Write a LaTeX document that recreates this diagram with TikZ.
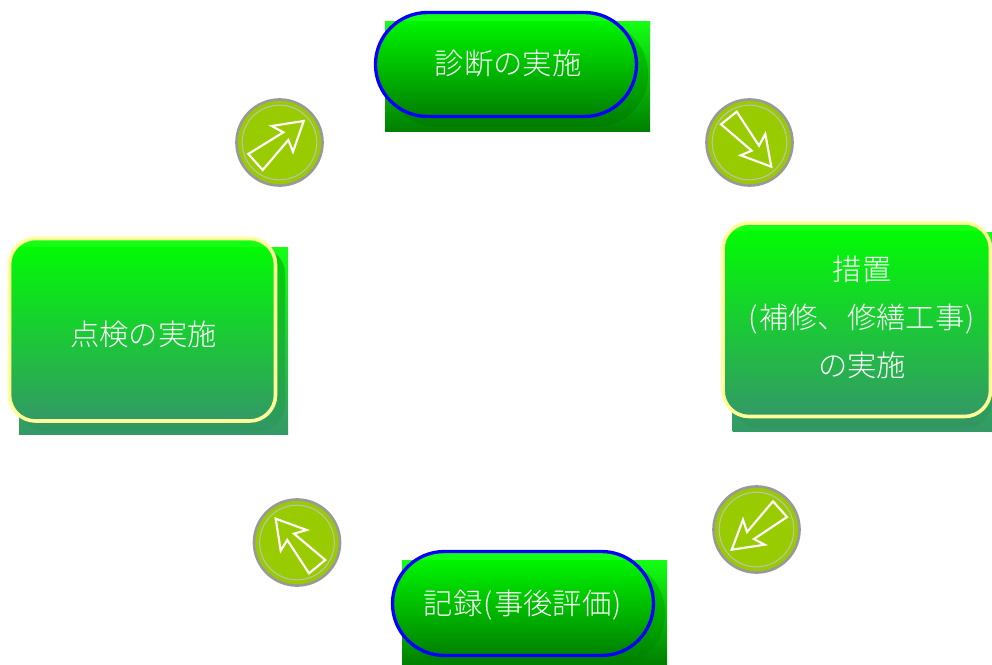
\documentclass[tikz,border=0pt]{standalone}
\usepackage{fontspec}
\newfontfamily\cjk{Noto Sans CJK JP}[UprightFont=* Light]
\definecolor{shadetop}{HTML}{00FF00}
\definecolor{rimtop}{HTML}{14FF14}
\definecolor{darkgreen}{HTML}{008000}
\definecolor{seagreen}{HTML}{339966}
\definecolor{paleyellow}{HTML}{FFFF99}
\definecolor{discfill}{HTML}{99CC00}
\definecolor{discrim}{HTML}{999999}
\definecolor{discring}{HTML}{C0C0C0}
\tikzset{
  pillface/.style={top color=shadetop,bottom color=darkgreen},
  pillback/.style={top color=rimtop,bottom color=darkgreen},
  pillmid/.style={top color=green!88!black,bottom color=darkgreen!97!black},
  pillline/.style={draw=blue,line width=2.5pt},
  boxface/.style={top color=shadetop,bottom color=seagreen},
  boxback/.style={top color=rimtop,bottom color=seagreen},
  boxmid/.style={top color=green!82!black,bottom color=seagreen!98!black},
  boxline/.style={draw=paleyellow,line width=2.7pt},
  label/.style={font=\cjk\fontsize{22pt}{26pt}\selectfont,text=white,inner sep=0pt,align=center},
  disc/.style={circle,draw=discrim,line width=2pt,fill=discfill,minimum size=64.5pt,inner sep=0pt},
  ring/.style={circle,draw=discring,line width=0.75pt,minimum size=56pt,inner sep=0pt},
  arrowmark/.style={draw=white,line width=1.6pt,line join=miter}
}
% #1 name, #2-#5 face box, #6 radius, #7 prefix of the styles, #8 x2 and y2 of the back plate, #9 x2,y2 of mid shape
\newcommand{\card}[9]{%
  \coordinate (#1nw) at (#2,#3);
  \coordinate (#1se) at (#4,#5);
  \coordinate (#1bnw) at (#2+9.5,#3+9);
  \coordinate (#1bse) at #8;
  \coordinate (#1mse) at #9;
  \path[#7back] (#1bnw) rectangle (#1bse);
  \path[#7mid,rounded corners=#6*0.75pt] (#1bnw) rectangle (#1mse);
  \path[#7face,rounded corners=#6*0.75pt] (#1nw) rectangle (#1se);
  \begin{scope}
    \clip[rounded corners=#6*0.75pt] (#1nw) rectangle (#1se);
    \fill[rimtop] (#2,#3) rectangle (#4,#3+8);
  \end{scope}
  \path[#7line,rounded corners=#6*0.75pt] (#1nw) rectangle (#1se);
}
\begin{document}
\begin{tikzpicture}[x=0.75pt,y=-0.75pt]
\useasboundingbox (0,0) rectangle (992,664);

\card{diag}{375.5}{12.5}{636.5}{116.5}{52}{pill}{(650,131)}{(648,127)}
\node[label] (diagtext) at (508,64) {診断の実施};

\card{meas}{723}{223}{990.5}{416.5}{26}{box}{(992,431)}{(992,428)}
\node[label] (meastext) at (862,317) {措置\\[10pt](\kern1pt 補修、修繕工事\kern1pt)\\[10pt]の実施};

\card{insp}{9.5}{238.5}{275.5}{421}{26}{box}{(288,434)}{(285,431)}
\node[label] (insptext) at (143.5,334.5) {点検の実施};

\card{reco}{392.5}{551.5}{653.5}{655.5}{52}{pill}{(667,664)}{(665,666)}
\node[label] (recotext) at (523,605) {記録\kern1pt(\kern1pt 事後評価\kern1pt)};

\node[disc] (d1) at (279.5,142.5) {};
\node[ring] (r1) at (d1) {};
\draw[arrowmark] (248.3,154) -- (283.3,132.3) -- (271.7,126) -- (303.7,121) -- (293,151.7) -- (288.3,140) -- (262.7,170) -- cycle;

\node[disc] (d2) at (749.5,142.5) {};
\node[ring] (r2) at (d2) {};
\draw[arrowmark] (721,124.3) -- (736.7,111.7) -- (759,145.7) -- (765.3,134) -- (771.3,166.7) -- (740.7,155.3) -- (751.7,150.7) -- cycle;

\node[disc] (d3) at (756.5,529.5) {};
\node[ring] (r3) at (d3) {};
\draw[arrowmark] (773,501.3) -- (787,517) -- (754,539) -- (764.7,544.7) -- (731.7,549.7) -- (743,519.7) -- (747,532) -- cycle;

\node[disc] (d4) at (297,542.5) {};
\node[ring] (r4) at (d4) {};
\draw[arrowmark] (275.7,518.7) -- (306.7,530) -- (294,533.7) -- (325.3,560) -- (309,573.3) -- (287.3,540) -- (280.7,550.7) -- cycle;
\end{tikzpicture}
\end{document}
